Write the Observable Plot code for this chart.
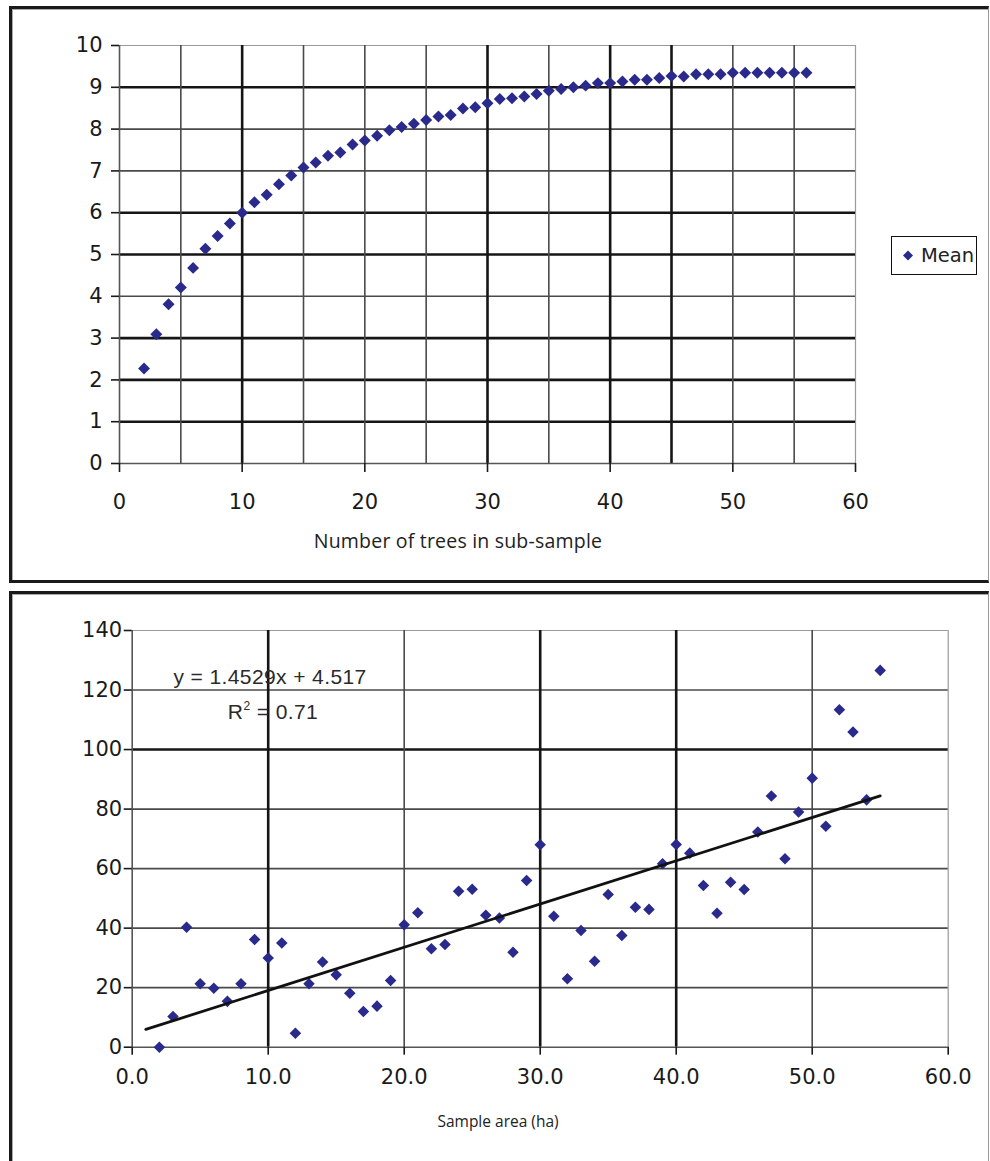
<!DOCTYPE html>
<html>
<head>
<meta charset="utf-8">
<script src="https://cdn.jsdelivr.net/npm/d3@7"></script>
<script src="https://cdn.jsdelivr.net/npm/@observablehq/plot@0.6"></script>
<style>
  html, body { margin: 0; padding: 0; background: #fff; }
  #root { position: relative; width: 990px; height: 1161px; overflow: hidden; background: #fff; }
  .panel { position: absolute; box-sizing: border-box; border-top: 3px solid #1a1a1a; border-left: 3px solid #1a1a1a; border-bottom: 3px solid #1a1a1a; border-right: 1.5px solid #9a9a9a; box-shadow: inset 1px 1px 0 #aaa; }
  .abs { position: absolute; }
  .title { position: absolute; font-family: "Open Sans", sans-serif; color: #222; line-height: 1; white-space: nowrap; transform: translateX(-50%); }
  .eq { position: absolute; font-family: "Liberation Sans", Arial, sans-serif; font-size: 21px; color: #2a2a2a; line-height: 1; white-space: nowrap; letter-spacing: 0.4px; transform: translateX(-50%); }
  .legend { position: absolute; left: 891px; top: 236px; width: 86px; height: 39px; box-sizing: border-box; border: 1.5px solid #111; background: #fff; font-family: "DejaVu Sans", sans-serif; font-size: 19.5px; color: #222; }
</style>
</head>
<body>
<div id="root">
  <div class="panel" style="left:9px; top:6px; width:980px; height:577px;"></div>
  <div class="panel" style="left:9px; top:591px; width:980px; height:600px;"></div>
  <div id="topChart" class="abs" style="left:0; top:0;"></div>
  <div id="bottomChart" class="abs" style="left:0; top:588px;"></div>
  <div class="legend">
    <svg width="20" height="36" style="position:absolute; left:6px; top:0;"><polygon points="10,13.5 15,18.5 10,23.5 5,18.5" fill="#2a2a8c"/></svg>
    <span style="position:absolute; left:29px; top:7px;">Mean</span>
  </div>
  <div class="title" id="topTitle" style="left:458px; top:531px; font-size:19.5px; letter-spacing:0.2px;">Number of trees in sub-sample</div>
  <div class="title" id="bottomTitle" style="left:498px; top:1114px; font-size:15.5px;">Sample area (ha)</div>
  <div class="eq" id="eq1" style="left:270px; top:666px;"></div>
  <div class="eq" id="eq2" style="left:273px; top:700px;"></div>
</div>
<script>
// ---------- Top chart data: mean vs number of trees in sub-sample ----------
const treesX = [2,3,4,5,6,7,8,9,10,11,12,13,14,15,16,17,18,19,20,21,22,23,24,25,26,27,28,29,30,31,32,33,34,35,36,37,38,39,40,41,42,43,44,45,46,47,48,49,50,51,52,53,54,55,56];
const meanY = [2.27,3.09,3.81,4.21,4.68,5.14,5.44,5.74,6.00,6.25,6.43,6.68,6.89,7.08,7.20,7.36,7.44,7.63,7.73,7.84,7.97,8.05,8.13,8.22,8.30,8.34,8.49,8.52,8.62,8.72,8.74,8.78,8.84,8.92,8.96,9.00,9.04,9.10,9.10,9.14,9.18,9.18,9.22,9.27,9.26,9.31,9.31,9.31,9.35,9.35,9.35,9.35,9.35,9.35,9.35];
const topXTicks = [0,10,20,30,40,50,60];
const topYTicks = [0,1,2,3,4,5,6,7,8,9,10];
const topGridXThick = [10,30,45,40];
const topGridXThin = [5,15,20,25,35,50,55];
const topGridYThick = [1,2,3,5,6,9];
const topGridYThin = [4,7,8];

// ---------- Bottom chart data: sample area vs value ----------
const areaX = [2,3,4,5,6,7,8,9,10,11,12,13,14,15,16,17,18,19,20,21,22,23,24,25,26,27,28,29,30,31,32,33,34,35,36,37,38,39,40,41,42,43,44,45,46,47,48,49,50,51,52,53,54,55];
const areaY = [0,10.3,40.3,21.3,19.8,15.4,21.3,36.2,30.0,35.0,4.7,21.3,28.6,24.3,18.1,12.0,13.8,22.4,41.1,45.2,33.1,34.5,52.4,53.1,44.3,43.4,31.9,56.0,68.0,44.0,23.0,39.2,28.9,51.3,37.5,47.0,46.3,61.6,68.1,65.2,54.3,45.0,55.4,53.0,72.3,84.4,63.3,79.0,90.4,74.2,113.4,105.9,83.1,126.6];
const bottomXTicks = [0,10,20,30,40,50,60];
const bottomYTicks = [0,20,40,60,80,100,120,140];
const bottomGridXThick = [10,30,40];
const bottomGridXThin = [20,50];
const bottomGridYThick = [100];
const bottomGridYThin = [20,40,60,80,120];
const trendSlope = 1.4529;
const trendIntercept = 4.517;
const trendR2 = 0.71;
const trendRange = [1, 55];

const navy = "#2a2a8c";

const topData = treesX.map((x, i) => ({x, y: meanY[i]}));
const bottomData = areaX.map((x, i) => ({x, y: areaY[i]}));
const trendData = trendRange.map(x => ({x, y: trendSlope * x + trendIntercept}));

const axisStyle = {fontFamily: "DejaVu Sans, sans-serif", fontSize: "21px", color: "#1a1a1a", background: "transparent", overflow: "visible"};

const topPlot = Plot.plot({
  width: 990, height: 585,
  marginLeft: 119, marginRight: 135, marginTop: 45, marginBottom: 122,
  x: {domain: [0, 60]},
  y: {domain: [0, 10]},
  style: axisStyle,
  marks: [
    Plot.gridY([10], {stroke: "#9a9a9a", strokeOpacity: 1, strokeWidth: 1.2}),
    Plot.gridX([60], {stroke: "#9a9a9a", strokeOpacity: 1, strokeWidth: 1.2}),
    Plot.gridY(topGridYThin, {stroke: "#4a4a4a", strokeOpacity: 1, strokeWidth: 1.6}),
    Plot.gridY(topGridYThick, {stroke: "#151515", strokeOpacity: 1, strokeWidth: 2.6}),
    Plot.gridX(topGridXThin, {stroke: "#4a4a4a", strokeOpacity: 1, strokeWidth: 1.6}),
    Plot.gridX(topGridXThick, {stroke: "#151515", strokeOpacity: 1, strokeWidth: 2.6}),
    Plot.ruleX([0], {stroke: "#555", strokeWidth: 1.6}),
    Plot.ruleY([0], {stroke: "#555", strokeWidth: 1.6}),
    Plot.axisY(topYTicks, {tickSize: 8, tickPadding: 9, label: null, strokeWidth: 1.6, fontSize: 21}),
    Plot.axisX(topXTicks, {tickSize: 9, tickPadding: 22, label: null, strokeWidth: 1.6, fontSize: 21}),
    Plot.dot(topData, {x: "x", y: "y", symbol: "diamond2", r: 5.4, fill: navy, stroke: null})
  ]
});
document.getElementById("topChart").appendChild(topPlot);

const bottomPlot = Plot.plot({
  width: 990, height: 573,
  marginLeft: 131.7, marginRight: 42.3, marginTop: 42, marginBottom: 114.3,
  x: {domain: [0, 60]},
  y: {domain: [0, 140]},
  style: axisStyle,
  marks: [
    Plot.gridY([140], {stroke: "#9a9a9a", strokeOpacity: 1, strokeWidth: 1.2}),
    Plot.gridX([60], {stroke: "#9a9a9a", strokeOpacity: 1, strokeWidth: 1.2}),
    Plot.gridY(bottomGridYThin, {stroke: "#4a4a4a", strokeOpacity: 1, strokeWidth: 1.6}),
    Plot.gridY(bottomGridYThick, {stroke: "#151515", strokeOpacity: 1, strokeWidth: 2.6}),
    Plot.gridX(bottomGridXThin, {stroke: "#4a4a4a", strokeOpacity: 1, strokeWidth: 1.6}),
    Plot.gridX(bottomGridXThick, {stroke: "#151515", strokeOpacity: 1, strokeWidth: 2.6}),
    Plot.ruleX([0], {stroke: "#555", strokeWidth: 1.6}),
    Plot.ruleY([0], {stroke: "#555", strokeWidth: 1.6}),
    Plot.axisY(bottomYTicks, {tickSize: 8, tickPadding: 2, label: null, strokeWidth: 1.6, fontSize: 21}),
    Plot.axisX(bottomXTicks, {tickSize: 8, tickPadding: 14, label: null, strokeWidth: 1.6, fontSize: 21, tickFormat: d => d.toFixed(1)}),
    Plot.dot(bottomData, {x: "x", y: "y", symbol: "diamond2", r: 5.2, fill: navy, stroke: null}),
    Plot.line(trendData, {x: "x", y: "y", stroke: "#111", strokeWidth: 2.8})
  ]
});
document.getElementById("bottomChart").appendChild(bottomPlot);

document.getElementById("eq1").textContent = `y = ${trendSlope}x + ${trendIntercept}`;
document.getElementById("eq2").innerHTML = `R<sup style="font-size:12px; vertical-align: 9px;">2</sup> = ${trendR2}`;
</script>
</body>
</html>
